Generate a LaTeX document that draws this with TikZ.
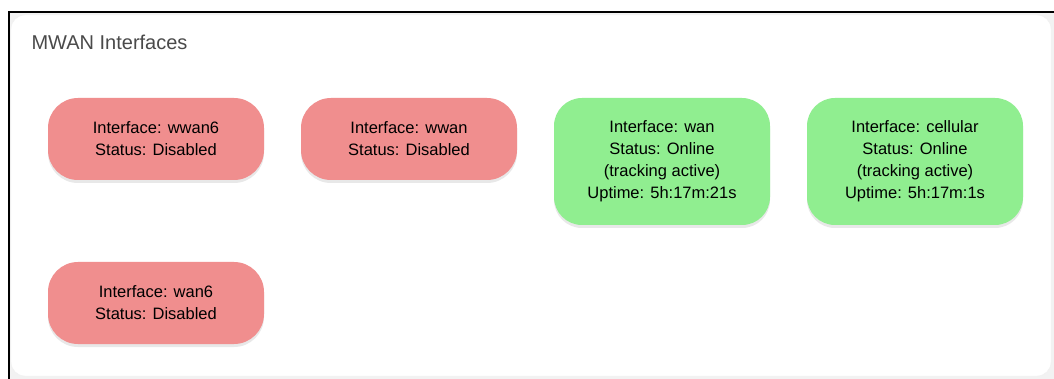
\documentclass[tikz,border=0pt]{standalone}
\usepackage{fontspec}
\setmainfont{Liberation Sans}
\usetikzlibrary{shadows}
\definecolor{redbox}{HTML}{F08E8E}
\definecolor{greenbox}{HTML}{90EE90}
\definecolor{titlegray}{HTML}{4A4A4A}
\definecolor{cardbg}{HTML}{F2F2F2}
\begin{document}
\begin{tikzpicture}[x=1pt,y=-1pt,
  ifbox/.style={rounded corners=30pt, minimum width=216pt, align=center,
    font=\fontsize{16.5}{22}\selectfont, text=black, inner sep=0pt,
    drop shadow={opacity=0.18, shadow xshift=0pt, shadow yshift=-3pt}},
  redif/.style={ifbox, fill=redbox, minimum height=82pt},
  greenif/.style={ifbox, fill=greenbox, minimum height=127pt, rounded corners=28pt},
  frameline/.style={line width=2pt, black}
]
\useasboundingbox (0,0) rectangle (1054,379);
\fill[white] (0,0) rectangle (1054,379);
\fill[cardbg] (9,13) rectangle (1054,379);
\fill[white, draw=gray!12, rounded corners=14pt] (11,15) rectangle (1051,376);
\draw[frameline] (8,12) -- (1054,12);
\draw[frameline] (9,12) -- (9,379);

\node[anchor=base west, text=titlegray, font=\fontsize{20}{24}\selectfont] (title) at (28,50) {MWAN Interfaces};

\node[redif] (wwan6) at (156,139) {Interface: wwan6\\Status: Disabled};
\node[redif] (wwan) at (409,139) {Interface: wwan\\Status: Disabled};
\node[greenif] (wan) at (662,161.5) {Interface: wan\\Status: Online\\(tracking active)\\Uptime: 5h:17m:21s};
\node[greenif] (cellular) at (915,161.5) {Interface: cellular\\Status: Online\\(tracking active)\\Uptime: 5h:17m:1s};
\node[redif] (wan6) at (156,303) {Interface: wan6\\Status: Disabled};
\end{tikzpicture}
\end{document}
